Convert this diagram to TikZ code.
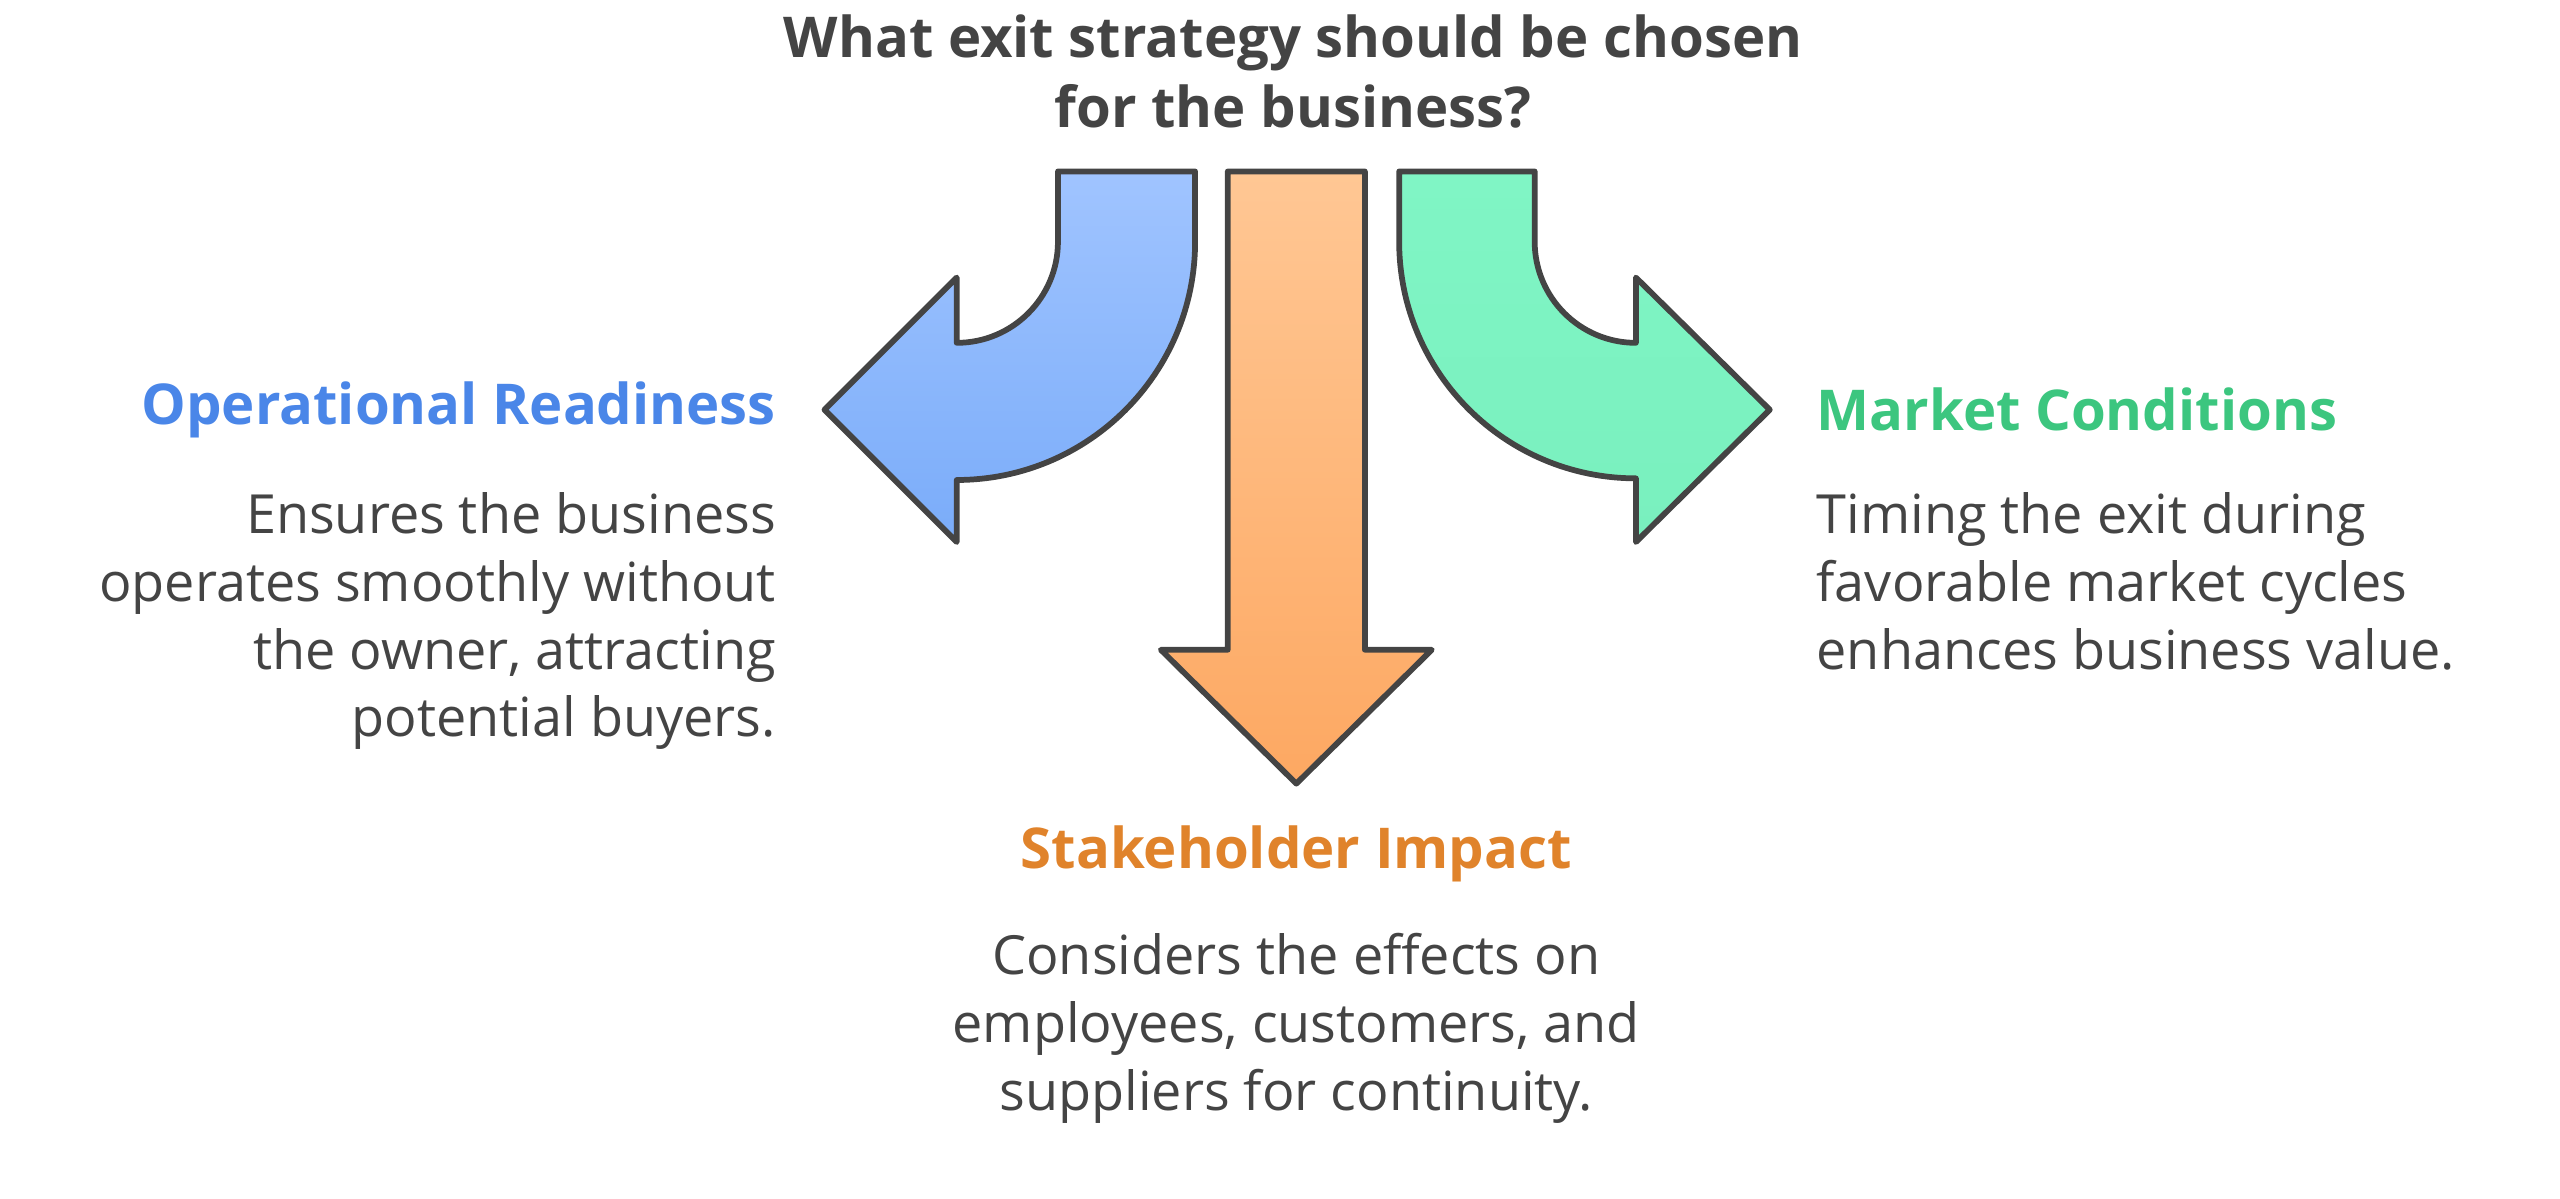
\documentclass[tikz,border=0pt]{standalone}
\usepackage{fontspec}
\setmainfont{Open Sans}
\usetikzlibrary{positioning}
\definecolor{ink}{HTML}{444444}
\definecolor{opblue}{HTML}{4A86E8}
\definecolor{storange}{HTML}{E0832B}
\definecolor{mkgreen}{HTML}{3CC67F}
\definecolor{bluetop}{HTML}{A0C4FF}
\definecolor{bluebot}{HTML}{7AACF9}
\definecolor{orangetop}{HTML}{FFC794}
\definecolor{orangebot}{HTML}{FDA862}
\definecolor{greentop}{HTML}{80F5C5}
\definecolor{greenbot}{HTML}{79F0BE}
\tikzset{
  arrowshape/.style={draw=ink, line width=1pt, line join=round},
  head/.style={font=\fontsize{9.8}{10.5}\selectfont\bfseries, inner sep=0pt},
  body/.style={font=\fontsize{9.4}{11.8}\selectfont, text=ink, inner sep=0pt}
}
\begin{document}
\begin{tikzpicture}[x=0.01cm, y=0.01cm]
	\useasboundingbox (0,0) rectangle (1568,-734);
	% arrows
	\path[arrowshape, top color=bluetop, bottom color=bluebot]
		(648,-105) -- (732,-105) -- (732,-148) arc(0:-90:146) -- (586,-332) -- (505,-251)
		-- (586,-170) -- (586,-210) arc(-90:0:62) -- cycle;
	\path[arrowshape, top color=orangetop, bottom color=orangebot]
		(752,-105) -- (836,-105) -- (836,-398) -- (877,-398) -- (794,-480) -- (711,-398) -- (752,-398) -- cycle;
	\path[arrowshape, top color=greentop, bottom color=greenbot]
		(940,-105) -- (857,-105) -- (857,-148) arc(180:270:145) -- (1002,-332) -- (1084,-251)
		-- (1002,-170) -- (1002,-210) arc(270:180:62) -- cycle;
	% texts
	\node (question) [head, text=ink, align=center, font=\fontsize{9.8}{12.2}\selectfont\bfseries] at (792,-44)
		{What exit strategy should be chosen\\for the business?};
	\node (ophead) [head, text=opblue, anchor=east] at (476,-251) {Operational Readiness};
	\node (optext) [body, align=right, anchor=north east] at (476,-301)
		{Ensures the business\\operates smoothly without\\the owner, attracting\\potential buyers.};
	\node (mkhead) [head, text=mkgreen, anchor=west] at (1112,-251) {Market Conditions};
	\node (mktext) [body, align=left, anchor=north west] at (1112,-301)
		{Timing the exit during\\favorable market cycles\\enhances business value.};
	\node (sthead) [head, text=storange] at (794,-523) {Stakeholder Impact};
	\node (sttext) [body, align=center, anchor=north] at (794,-571)
		{Considers the effects on\\employees, customers, and\\suppliers for continuity.};
\end{tikzpicture}
\end{document}
